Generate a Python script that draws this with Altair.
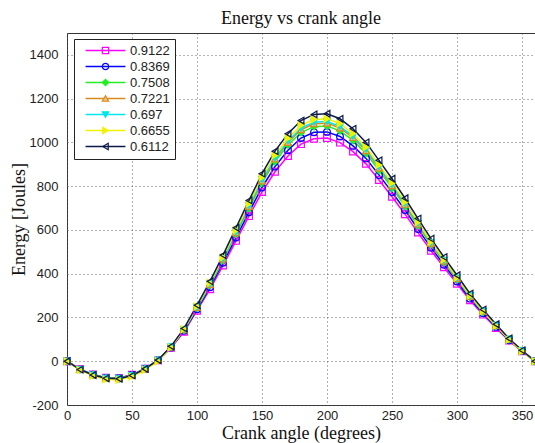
import altair as alt
import pandas as pd

# Crank angle samples (degrees)
angle = list(range(0, 361, 10))

# Series labels (ratio values) in legend order
ratios = ["0.9122", "0.8369", "0.7508", "0.7221", "0.697", "0.6655", "0.6112"]

# Energy [J] for each series at every crank angle
e_0_9122 = [0, -36, -60, -75, -77, -62, -34, 4, 61, 135, 231, 329, 437, 550, 663, 773, 866, 938, 992, 1017,
            1020, 999, 958, 902, 828, 752, 672, 588, 505, 429, 354, 279, 213, 152, 94, 45, 0]
e_0_8369 = [0, -37, -61, -76, -78, -63, -34, 5, 63, 139, 237, 338, 450, 565, 681, 794, 890, 964, 1020, 1046,
            1048, 1027, 984, 927, 851, 773, 691, 604, 519, 441, 364, 286, 219, 157, 96, 46, 0]
e_0_7508 = [0, -37, -62, -77, -79, -64, -35, 5, 65, 143, 243, 347, 461, 580, 698, 815, 912, 988, 1045, 1072,
            1075, 1053, 1009, 950, 872, 792, 708, 619, 532, 452, 373, 294, 224, 161, 99, 48, 0]
e_0_7221 = [0, -38, -62, -77, -79, -64, -35, 5, 65, 144, 246, 351, 467, 587, 707, 824, 924, 1000, 1058, 1085,
            1088, 1066, 1022, 962, 883, 802, 717, 627, 539, 458, 378, 297, 227, 163, 100, 48, 0]
e_0_697 = [0, -38, -63, -78, -80, -65, -35, 5, 66, 145, 248, 353, 469, 590, 711, 830, 929, 1007, 1065, 1092,
           1095, 1073, 1028, 968, 889, 807, 721, 631, 542, 461, 380, 299, 228, 164, 101, 48, 0]
e_0_6655 = [0, -40, -67, -83, -85, -70, -40, 0, 63, 147, 251, 358, 475, 598, 720, 840, 941, 1019, 1078, 1105,
            1108, 1086, 1041, 978, 897, 815, 728, 636, 546, 464, 382, 300, 228, 162, 98, 45, 0]
e_0_6112 = [0, -38, -63, -78, -80, -65, -35, 5, 68, 150, 256, 365, 485, 610, 735, 857, 960, 1040, 1100, 1128,
            1131, 1108, 1062, 1000, 918, 834, 745, 652, 560, 476, 393, 309, 236, 169, 104, 50, 0]

series = [e_0_9122, e_0_8369, e_0_7508, e_0_7221, e_0_697, e_0_6655, e_0_6112]

line_colors = ["#ff00ff", "#0000ff", "#22ee22", "#d98a1c", "#00e5ee", "#f2f200", "#0c1a4a"]
marker_fills = ["transparent", "transparent", "#22ee22", "#f2c27a", "#00e5ee", "#f2f200", "transparent"]
marker_shapes = ["square", "circle", "diamond", "triangle-up", "triangle-down", "triangle-right", "triangle-left"]

rows = []
for r, values in zip(ratios, series):
    for a, v in zip(angle, values):
        # "curve" drives the line legend, "marker" drives the marker legend
        rows.append({"angle": a, "energy": v, "curve": r, "marker": r})
df = pd.DataFrame(rows)

x_enc = alt.X("angle:Q", scale=alt.Scale(domain=[0, 360], nice=False),
              axis=alt.Axis(values=list(range(0, 351, 50)), title="Crank angle (degrees)",
                            labelExpr="'' + datum.value", labelFlush=False))
y_enc = alt.Y("energy:Q", scale=alt.Scale(domain=[-200, 1500], nice=False),
              axis=alt.Axis(values=list(range(-200, 1401, 200)), title="Energy [Joules]",
                            labelExpr="'' + datum.value"))

LEG_X, LEG_Y = 7, 6
legend_common = dict(
    orient="none", legendX=LEG_X, legendY=LEG_Y, title=None, symbolSize=40,
    symbolOffset=20,
    labelFont="Liberation Sans", labelFontSize=13, labelColor="#222",
    labelOffset=18, rowPadding=2, padding=5,
)

# line legend: scale domain left to the data so it stays a separate legend
lines = alt.Chart(df).mark_line(strokeWidth=1.5).encode(
    x=x_enc, y=y_enc,
    color=alt.Color("curve:N", sort=ratios,
                    scale=alt.Scale(range=line_colors),
                    legend=alt.Legend(symbolType="M-6.3,0L6.3,0", symbolStrokeWidth=1.5,
                                      fillColor="white", strokeColor="#222", **legend_common)),
)

marker_legend = alt.Legend(labelOpacity=0, symbolStrokeWidth=1.2, **legend_common)
points = alt.Chart(df).mark_point(filled=False, size=45, strokeWidth=1.2, opacity=1).encode(
    x="angle:Q", y="energy:Q",
    stroke=alt.Stroke("marker:N", sort=ratios, scale=alt.Scale(domain=ratios, range=line_colors),
                      legend=marker_legend),
    fill=alt.Fill("marker:N", sort=ratios, scale=alt.Scale(domain=ratios, range=marker_fills),
                  legend=marker_legend),
    shape=alt.Shape("marker:N", sort=ratios, scale=alt.Scale(domain=ratios, range=marker_shapes),
                    legend=marker_legend),
)

chart = alt.layer(lines, points).properties(
    width=468, height=372,
    title=alt.Title("Energy vs crank angle", font="Liberation Serif", fontSize=18,
                    fontWeight="normal", color="#111", anchor="middle", offset=5),
    autosize=alt.AutoSizeParams(type="none"),
    padding={"left": 67, "top": 33, "right": 0, "bottom": 38},
).configure_view(
    stroke="#333", strokeWidth=1,
).configure_axis(
    grid=True, gridColor="#555", gridDash=[1, 3], gridWidth=1, gridOpacity=0.9,
    domain=False, ticks=False,
    labelFont="Liberation Sans", labelFontSize=13, labelColor="#222",
    titleFont="Liberation Serif", titleFontSize=18, titleFontWeight="normal", titleColor="#111",
).configure_axisX(
    labelPadding=4, titlePadding=2,
).configure_axisY(
    labelPadding=9, titlePadding=1,
)

chart.save("out.html", embed_options={"renderer": "svg", "actions": False})
